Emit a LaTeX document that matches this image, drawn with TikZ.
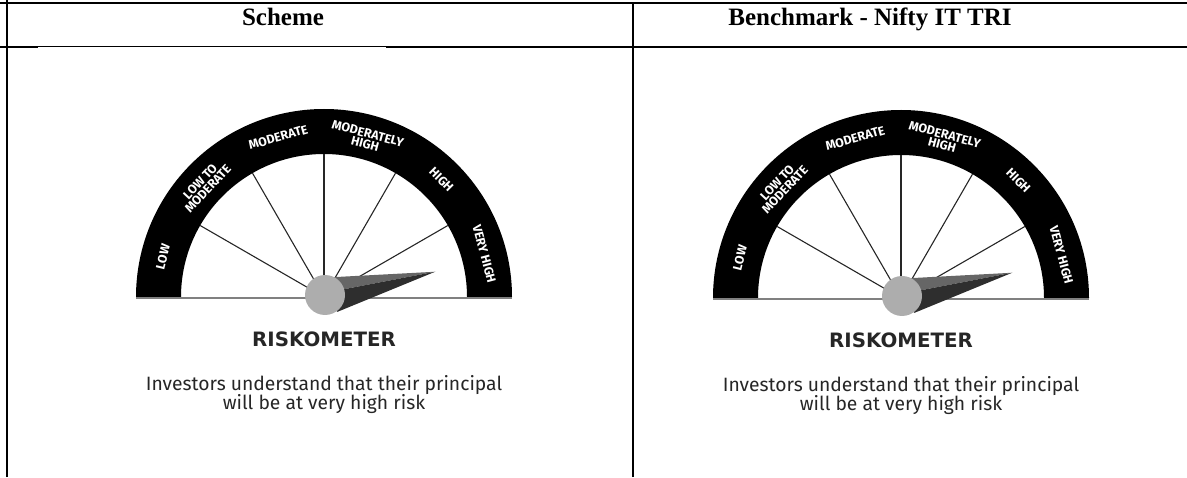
\documentclass[tikz,border=0pt]{standalone}
\usepackage{fontspec}
\setmainfont{Liberation Serif}
\newfontfamily\gsans{Fira Sans}
\newfontfamily\gwide{DejaVu Sans}
\newcommand\glab[4]{%
  \node[glabel,rotate=#2-90] (#3) at (#2:#1) {#4};}
\begin{document}
\begin{tikzpicture}[x=1pt,y=1pt,
  tablerule/.style={line width=2pt,black},
  tablethin/.style={line width=1pt,black},
  gband/.style={fill=black},
  gbase/.style={draw=black!50,line width=1.5pt},
  gspoke/.style={draw=black!85,line width=1.1pt},
  needlelt/.style={fill=black!60},
  needledk/.style={fill=black!82},
  gpivot/.style={fill=black!32},
  glabel/.style={font=\gsans\bfseries\fontsize{12.5}{10.5}\selectfont,text=white,inner sep=0,anchor=center,align=center},
  headtext/.style={font=\fontsize{25}{29}\selectfont\bfseries,inner sep=0,anchor=base},
  riskotitle/.style={font=\gwide\bfseries\fontsize{19.8}{22}\selectfont,inner sep=0,anchor=base,text=black!85},
  riskobody/.style={font=\gsans\fontsize{19.3}{22}\selectfont,inner sep=0,anchor=base,text=black!85},
  riskometer/.pic={
    \fill[gband] (180:188pt) arc[start angle=180,end angle=0,radius=188pt]
      -- (0:143pt) arc[start angle=0,end angle=180,radius=143pt] -- cycle;
    \foreach \a in {30,60,90,120,150} {\draw[gspoke] (\a:18pt) -- (\a:143pt);}
    \draw[gbase] (-188pt,-1pt) -- (188pt,-1pt);
    \fill[needlelt] (78:20pt) -- (12.8:114pt) -- (22:20pt) -- (0,0) -- cycle;
    \fill[needledk] (22:20pt) -- (12.8:114pt) -- (-48:20pt) -- (0,0) -- cycle;
    \fill[gpivot] (1pt,2pt) circle[radius=20pt];
    \glab{166pt}{166}{-low}{LOW}
    \glab{164pt}{137}{-ltm}{LOW TO\\MODERATE}
    \glab{166pt}{106}{-mod}{MODERATE}
    \glab{164pt}{75}{-mh}{MODERATELY\\HIGH}
    \glab{166pt}{45}{-high}{HIGH}
    \glab{166pt}{15}{-vh}{VERY HIGH}
    \node[riskotitle] (-title) at (0,-49.7) {RISKOMETER};
    \node[riskobody] (-line1) at (0,-93.7) {Investors understand that their principal};
    \node[riskobody] (-line2) at (0,-112.3) {will be at very high risk};
  }]
\useasboundingbox (0,0) rectangle (1187,477);
% table rules
\draw[tablerule] (0,473.5) -- (1187,473.5);
\draw[tablerule] (6.5,0) -- (6.5,477);
\draw[tablerule] (633,0) -- (633,473.5);
\draw[tablerule] (0,430.3) -- (38,430.3);
\draw[tablethin] (38,430) -- (386,430);
\draw[tablerule] (386,430.3) -- (1187,430.3);
% headers
\node[headtext] (scheme) at (283,451.3) {Scheme};
\node[headtext] (bench) at (870,451.3) {Benchmark - Nifty IT TRI};
% gauges
\pic (left) at (324,180) {riskometer};
\pic (right) at (901,179) {riskometer};
\end{tikzpicture}
\end{document}
